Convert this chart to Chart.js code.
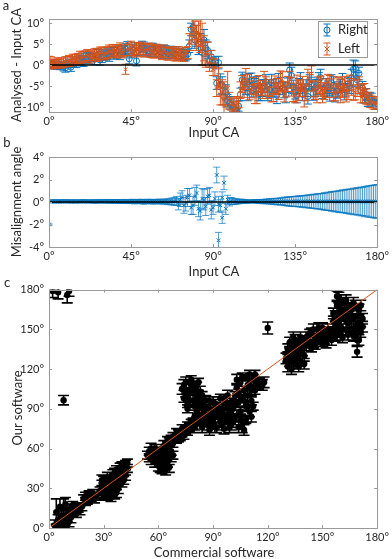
<!DOCTYPE html>
<html><head><meta charset="utf-8">
<script src="https://cdn.jsdelivr.net/npm/chart.js@4.4.0/dist/chart.umd.min.js"></script>
<style>
html,body{margin:0;padding:0;background:#fff;width:392px;height:559px;overflow:hidden;font-family:Lato,"Open Sans",sans-serif;}
#wrap{position:relative;width:392px;height:559px;}
canvas{position:absolute;left:0;}
.t{position:absolute;color:#262626;font-size:13px;white-space:nowrap;line-height:1;transform:translate(-50%,-50%);}
.r{transform:translate(-50%,-50%) rotate(-90deg);}
</style></head>
<body><div id="wrap">
<canvas id="ca" width="392" height="140" style="top:0;width:392px;height:140px"></canvas>
<canvas id="cb" width="392" height="143" style="top:137px;width:392px;height:143px"></canvas>
<canvas id="cc" width="392" height="281" style="top:278px;width:392px;height:281px"></canvas>
<div class="t" style="left:6px;top:5px">a</div>
<div class="t" style="left:7px;top:142px">b</div>
<div class="t" style="left:7px;top:282px">c</div>
<div class="t r" style="left:16px;top:65px">Analysed - Input CA</div>
<div class="t r" style="left:16px;top:202px">Misalignment angle</div>
<div class="t r" style="left:17px;top:408px">Our software</div>
<div class="t" style="left:214px;top:132px">Input CA</div>
<div class="t" style="left:214px;top:271px">Input CA</div>
<div class="t" style="left:214px;top:552px">Commercial software</div>
</div>
<script>
// ---------- tick labels ----------
const caTicks = [0,45,90,135,180];
const aYTicks = [-10,-5,0,5,10];
const bYTicks = [-4,-2,0,2,4];
const cTicks = [0,30,60,90,120,150,180];

// ---------- panel a / b : input contact angle (even and odd degrees) ----------
const inputCA = [0,2,4,6,8,10,12,14,16,18,20,22,24,26,28,30,32,34,36,38,40,42,44,46,48,50,52,54,56,58,
 60,62,64,66,68,70,72,74,76,78,80,82,84,86,88,90,92,94,96,98,100,102,104,106,108,110,112,114,116,118,
 120,122,124,126,128,130,132,134,136,138,140,142,144,146,148,150,152,154,156,158,160,162,164,166,168,170,172,174,176,178,180];
const inputCAOdd = [1,3,5,7,9,11,13,15,17,19,21,23,25,27,29,31,33,35,37,39,41,43,45,47,49,51,53,55,57,59,
 61,63,65,67,69,71,73,75,77,79,81,83,85,87,89,91,93,95,97,99,101,103,105,107,109,111,113,115,117,119,
 121,123,125,127,129,131,133,135,137,139,141,143,145,147,149,151,153,155,157,159,161,163,165,167,169,171,173,175,177,179];

const rightDiff = [0.3,0.2,0.0,-0.3,-0.4,0.2,-0.5,0.6,1.2,1.0,
 1.6,1.5,1.8,2.4,1.2,2.2,2.6,3.0,2.8,3.4,
 3.2,3.8,1.5,3.6,1.0,3.8,4.0,3.4,3.8,3.2,
 3.6,3.0,3.3,2.8,3.0,2.6,2.8,2.4,2.6,8.5,
 6.0,5.0,3.0,4.0,1.0,0.5,-4.3,-4.6,-7.5,-8.5,
 -9.5,-10.5,-9.8,-3.5,-5.5,-4.0,-6.0,-4.5,-6.5,-5.0,
 -6.8,-4.2,-6.0,-3.8,-5.5,-7.0,-1.2,-5.2,-7.2,-4.0,
 -6.0,-7.5,-4.5,-5.5,-3.5,-6.5,-5.0,-7.0,-4.8,-6.2,
 -5.0,-6.5,-4.5,-3.0,-0.8,-2.0,-5.5,-7.0,-8.0,-8.8,
 -9.2];
const rightDiffOdd = [0.1,-0.2,0.3,0.0,-0.6,0.4,0.8,0.5,1.4,0.9,
 1.8,2.0,1.4,2.6,2.0,2.5,2.2,3.2,3.0,2.6,
 3.5,4.2,3.0,3.9,3.5,4.4,3.6,3.2,3.9,3.4,
 3.2,3.6,2.9,3.2,2.7,3.0,2.5,2.2,4.5,9.0,
 7.0,5.5,6.0,3.5,2.0,0.8,0.6,-4.8,-6.5,-9.0,
 -10.0,-10.8,-7.0,-4.0,-6.5,-3.5,-5.0,-7.0,-5.5,-4.0,
 -6.0,-5.0,-7.2,-4.5,-6.0,-4.8,-2.5,-6.5,-5.0,-7.0,
 -5.5,-4.0,-6.8,-5.2,-3.0,-6.0,-5.5,-4.2,-7.2,-5.8,
 -4.0,-6.0,-5.0,-1.0,-3.5,-6.0,-7.5,-8.5,-8.0,-9.5];
const rightErr = [0.8,0.8,0.9,0.8,1.0,0.9,1.0,1.1,1.0,1.2,
 1.1,1.2,1.0,1.3,1.2,1.1,1.3,1.2,1.4,1.2,
 1.3,1.3,1.2,1.4,1.2,1.3,1.5,1.2,1.4,1.3,
 1.2,1.4,1.3,1.2,1.3,1.4,1.2,1.3,1.2,1.5,
 2.0,2.5,3.0,2.0,1.5,1.2,1.5,2.5,2.0,1.5,
 1.2,1.0,1.2,1.8,1.5,2.0,1.6,1.8,2.0,1.5,
 1.7,2.0,1.6,1.8,1.5,2.0,1.7,1.6,1.8,2.2,
 1.5,1.8,1.6,2.0,1.7,1.5,1.8,1.6,2.0,1.7,
 1.5,1.8,1.6,2.0,1.8,1.5,1.6,1.4,1.5,1.2,
 1.0];
const rightErrOdd = [0.9,0.8,1.0,0.9,1.1,1.0,1.2,1.1,1.0,1.2,
 1.2,1.1,1.3,1.2,1.4,1.2,1.3,1.2,1.4,1.3,
 1.2,1.4,1.3,1.5,1.2,1.3,1.4,1.2,1.3,1.4,
 1.3,1.2,1.4,1.3,1.2,1.4,1.3,1.2,1.5,2.0,
 2.5,2.0,2.5,2.0,1.5,1.2,1.5,2.0,1.8,1.5,
 1.2,1.0,1.5,1.8,2.0,1.6,1.8,1.5,2.0,1.7,
 1.8,1.6,2.0,1.5,1.8,1.7,2.0,1.6,1.8,1.5,
 2.0,1.7,1.6,1.8,2.0,1.5,1.7,1.9,1.6,1.8,
 2.0,1.6,1.8,2.2,1.7,1.5,1.6,1.4,1.3,1.1];
const leftDiff = [0.6,0.4,0.5,0.3,0.6,0.8,0.9,1.2,1.6,1.8,
 2.0,2.2,2.3,2.6,2.8,2.5,3.0,3.2,3.4,3.5,
 3.0,-1.0,3.8,3.5,4.0,3.6,3.2,3.8,3.4,3.0,
 3.3,2.8,3.0,2.6,2.8,2.5,2.6,2.2,3.0,7.0,
 8.0,7.5,5.0,2.5,0.5,-1.0,-5.5,-7.0,-8.0,-5.5,
 -9.2,-9.8,-9.0,-4.5,-3.0,-6.5,-5.0,-7.0,-5.5,-4.0,
 -6.0,-7.0,-4.8,-6.2,-4.0,-5.8,-3.5,-6.5,-4.2,-5.5,
 -7.5,-3.0,-2.0,-6.0,-4.8,-7.2,-5.5,-4.5,-6.8,-5.2,
 -7.0,-4.5,-6.0,-5.2,-6.5,-4.8,-6.8,-7.5,-8.5,-9.0,
 -9.0];
const leftDiffOdd = [0.8,0.2,0.7,0.5,0.9,1.0,1.4,1.3,1.9,2.1,
 2.4,1.9,2.7,2.4,3.0,2.8,3.3,3.6,3.1,3.8,
 3.4,3.6,4.2,3.3,3.8,4.0,3.5,3.9,3.2,3.6,
 3.0,3.4,2.7,3.1,2.4,2.9,2.3,2.8,5.5,8.5,
 6.5,7.0,4.0,3.0,1.5,-0.5,-3.0,-6.5,-7.5,-8.5,
 -9.5,-9.0,-6.0,-5.5,-4.0,-5.8,-6.8,-4.5,-6.2,-5.0,
 -5.5,-6.5,-5.0,-3.8,-6.8,-4.5,-5.2,-7.0,-6.0,-4.5,
 -6.5,-4.0,-5.8,-7.0,-5.0,-6.2,-4.0,-5.5,-6.5,-4.8,
 -5.5,-6.8,-4.2,-6.0,-5.5,-7.2,-6.0,-8.0,-8.8,-9.2];
const leftErr = [1.5,1.0,1.2,1.0,1.1,1.2,1.1,1.3,1.2,1.3,
 1.4,1.2,1.3,1.4,1.5,1.3,1.4,1.3,1.5,1.4,
 1.3,1.2,1.5,1.3,1.4,1.5,1.3,1.4,1.6,1.3,
 1.4,1.5,1.3,1.4,1.3,1.5,1.4,1.3,1.4,2.0,
 2.5,3.0,5.0,3.0,2.0,1.5,2.0,2.5,4.0,4.0,
 1.5,1.2,1.2,2.0,2.2,1.8,2.0,2.2,1.8,2.5,
 2.0,1.8,2.2,2.0,2.4,1.8,2.0,2.2,1.8,2.0,
 2.5,2.0,1.8,2.2,2.0,1.8,2.2,2.0,1.8,2.4,
 2.0,1.8,2.2,2.0,1.8,2.0,2.2,1.8,1.6,1.5,
 1.4];
const leftErrOdd = [1.2,1.1,1.0,1.2,1.1,1.3,1.2,1.3,1.4,1.2,
 1.3,1.4,1.2,1.5,1.3,1.4,1.5,1.3,1.4,1.5,
 1.4,1.3,1.5,1.4,1.3,1.5,1.4,1.3,1.5,1.4,
 1.3,1.4,1.5,1.3,1.4,1.5,1.3,1.4,2.0,2.5,
 3.0,4.0,3.0,2.5,2.0,2.0,2.5,3.0,2.5,2.0,
 1.5,1.5,2.0,2.2,1.8,2.0,2.4,2.0,1.8,2.2,
 2.0,2.2,1.8,2.4,2.0,1.8,2.2,2.0,2.4,1.8,
 2.0,2.2,1.8,2.0,2.4,2.0,1.8,2.2,2.0,1.8,
 2.2,2.0,1.8,2.4,2.0,1.8,1.6,1.5,1.4,1.3];

const misalign = [-2.0,
 0.06,0.05,0.07,0.05,0.06,0.04,0.06,0.05,0.07,0.06,0.05,0.04,0.06,0.05,0.06,0.07,0.05,0.04,0.06,0.03,0.05,0.02,0.06,0.03,0.05,0.01,0.06,0.04,0.02,0.05,0.0,0.06,0.03,0.05,
 0.1,0.2,-0.3,0.4,-0.5,0.5,-0.6,0.3,-0.4,0.6,-0.5,2.4,-0.3,1.7,0.2,0.1,
 0.05,0.04,0.06,0.05,0.04,0.06,0.05,0.06,0.04,0.05,0.06,0.05,0.04,0.06,0.05,0.04,0.06,0.05,0.04,0.05,
 0.06,0.05,0.04,0.06,0.05,0.04,0.05,0.06,0.05,0.04,0.05,0.06,0.04,0.05,0.05,0.04,0.06,0.05,0.04,0.05];
const misalignOdd = [0.05,0.06,0.04,0.05,0.07,0.05,0.06,0.04,0.05,0.06,
 0.05,0.06,0.04,0.05,0.06,0.05,0.04,0.06,0.05,0.04,
 0.06,0.03,0.05,0.02,0.06,0.04,0.03,0.05,0.02,0.04,
 0.05,0.03,0.02,0.04,0.06,-0.2,0.4,-0.1,0.6,-0.3,
 0.8,-0.8,0.2,0.5,-0.7,0.3,-0.2,0.4,-0.6,0.0,
 0.05,0.04,0.06,0.05,0.04,0.05,0.06,0.05,0.04,0.05,
 0.06,0.05,0.04,0.05,0.06,0.05,0.04,0.05,0.06,0.05,
 0.04,0.05,0.06,0.05,0.04,0.05,0.06,0.05,0.04,0.05,
 0.06,0.05,0.04,0.05,0.06,0.05,0.04,0.05,0.06,0.05];
const misalignErr = [0.05,
 0.12,0.12,0.13,0.12,0.12,0.13,0.12,0.12,0.13,0.12,0.12,0.13,0.14,0.12,0.13,0.14,0.15,0.14,0.15,0.16,0.15,0.16,0.18,0.16,0.18,0.2,0.18,0.2,0.18,0.2,0.18,0.2,0.22,0.3,
 0.4,0.6,0.7,0.8,0.6,0.8,0.7,0.9,0.8,0.7,0.6,0.7,0.5,0.6,0.4,0.3,
 0.25,0.2,0.18,0.15,0.12,0.12,0.14,0.16,0.18,0.2,0.22,0.25,0.28,0.3,0.35,0.4,0.42,0.45,0.48,0.5,
 0.55,0.58,0.62,0.66,0.7,0.75,0.8,0.85,0.9,0.95,1.0,1.05,1.1,1.15,1.2,1.25,1.3,1.4,1.45,1.5];
const misalignErrOdd = [0.12,0.13,0.12,0.12,0.13,0.12,0.12,0.13,0.12,0.13,
 0.13,0.12,0.14,0.13,0.14,0.15,0.14,0.15,0.16,0.15,
 0.17,0.16,0.18,0.19,0.17,0.2,0.19,0.18,0.2,0.19,
 0.2,0.22,0.25,0.3,0.35,0.5,0.6,0.7,0.6,0.8,
 0.7,0.8,0.9,0.7,0.8,0.6,0.7,0.5,0.5,0.35,
 0.28,0.22,0.19,0.16,0.13,0.12,0.15,0.17,0.19,0.21,
 0.24,0.27,0.29,0.32,0.38,0.41,0.44,0.46,0.49,0.52,
 0.56,0.6,0.64,0.68,0.72,0.78,0.82,0.88,0.92,0.98,
 1.02,1.08,1.12,1.18,1.22,1.28,1.35,1.38,1.42,1.48];
const misExtraCA = [93,95];
const misExtra = [-3.4,-1.4];
const misExtraErr = [0.7,0.5];

// ---------- panel c : commercial vs our software ----------
const commercialCA = [
 3,4,5,6,7,8,8,9,10,10,11,12,6,9,4,11,
 13,14,15,16,17,18,13,15,
 19,20,21,22,23,24,25,26,20,
 28,29,30,30,31,32,32,33,33,34,34,35,35,36,36,37,37,38,38,39,39,40,40,41,41,42,42,43,31,36,
 54,55,56,57,58,58,59,60,60,61,62,62,63,63,64,65,65,66,67,68,66,57,
 64,66,67,68,69,70,71,72,73,74,75,76,77,78,79,80,81,70,74,78,
 73,74,75,76,77,78,79,80,81,82,83,84,76,80,
 80,82,82,83,84,84,85,86,86,87,88,88,89,90,90,91,92,92,93,94,94,95,96,96,97,98,98,99,100,100,
 101,102,103,103,104,105,105,106,106,107,108,108,109,110,110,111,112,113,114,115,117,113,104,107,
 130,131,131,132,132,133,133,134,134,135,135,136,136,137,138,138,139,140,140,137,
 141,142,143,144,145,146,147,148,149,150,151,152,153,154,155,144,148,152,
 156,157,157,158,158,159,159,160,160,161,161,162,162,163,163,164,164,165,159,156,
 166,166,167,167,168,168,169,169,170,170,171,171,172,
 2,5,10,11,8,120,169,115,118,
 29,30,31,32,33,34,35,36,37,38,39,40,41,42,43,37,34,29,
 55,56,58,59,60,61,62,63,64,65,66,67,61,64,
 63,65,68,71,73,76,79,82,
 74,75,77,78,79,81,83,84,82,
 81,83,85,86,87,88,89,90,91,91,93,94,95,96,97,98,99,100,
 101,102,103,104,105,106,107,108,109,110,111,112,111,109,
 131,132,133,134,135,136,137,138,139,140,
 141,143,145,146,147,149,150,151,153,155,
 156,157,158,159,160,161,162,163,164,165,160,158,
 166,167,168,169,170,171,172,170];
const ourCA = [
 2,12,6,1,9,4,15,7,2,11,5,8,16,18,0,14,
 12,14,11,15,13,16,17,16,
 22,24,21,25,23,26,22,24,20,
 28,32,25,35,29,24,38,31,27,35,23,40,28,33,25,37,44,30,41,46,35,40,47,43,36,48,40,45,36,42,
 55,58,52,56,60,50,54,47,58,52,45,60,50,56,48,55,62,52,58,55,46,53,
 63,65,67,64,69,67,71,69,72,70,74,73,76,75,78,77,80,72,75,79,
 105,98,110,94,102,108,96,104,99,110,95,100,90,92,
 85,80,90,84,76,93,88,80,96,84,74,90,86,80,95,88,76,92,84,98,80,90,75,86,94,82,100,88,78,95,
 90,100,85,106,95,110,82,98,76,104,92,114,100,108,88,96,112,104,110,109,108,116,76,74,
 128,122,135,140,126,120,132,138,128,124,142,134,130,138,126,144,134,140,130,122,
 138,145,141,148,140,144,150,142,146,140,148,144,150,146,142,136,151,139,
 150,160,145,168,155,174,148,165,152,170,144,158,164,150,172,155,146,162,162,156,
 150,165,145,158,168,152,142,160,155,165,148,160,152,
 179,178,176,179,96.5,151,133,109.5,110,
 26,30,33,28,35,29,32,37,32,36,42,35,47,44,49,27,39,36,
 53,60,55,59,52,56,50,62,53,50,58,54,45,44,
 60,66,69,68,75,77,80,82,
 108,102,96,112,104,107,103,96,100,
 88,92,82,90,78,96,80,88,76,94,90,86,78,98,82,90,76,86,
 80,94,112,102,88,114,96,82,108,116,104,92,84,92,
 129,133,126,144,131,139,127,136,141,124,
 144,147,150,138,145,140,151,142,145,148,
 162,152,146,156,172,150,170,158,166,150,146,175,
 158,170,146,152,148,168,158,142];
const ourErr = [
 4,10,4,3,5,4,7,4,3,4,4,4,6,5,3,4,
 3,3,3,3,3,3,3,3,
 3,3,3,3,3,3,3,3,3,
 3,4,3,4,3,3,4,3,3,4,3,4,3,4,3,4,3,4,3,3,4,3,3,4,3,3,4,3,4,3,
 3,3,4,3,3,4,3,4,3,3,4,3,4,3,4,3,3,4,3,3,4,3,
 3,3,3,3,3,3,3,3,3,3,3,3,3,3,3,3,3,3,3,3,
 4,3,4,3,4,3,4,3,4,3,4,3,3,3,
 4,3,4,3,4,3,4,3,4,3,4,3,4,3,4,3,4,3,4,3,4,3,4,3,4,3,4,3,4,3,
 4,3,4,3,4,3,4,3,4,3,4,3,4,3,4,3,4,3,4,4,4,3,4,4,
 4,4,4,4,4,4,4,4,4,4,4,4,4,4,4,4,4,4,4,4,
 4,3,4,3,4,3,4,3,4,3,4,3,4,3,4,3,4,3,
 4,4,4,4,4,4,4,4,4,4,4,4,4,4,4,4,4,4,4,4,
 4,4,4,4,4,4,4,4,4,4,4,4,4,
 5,5,6,4,3.5,4.5,4,4,4,
 3,4,3,4,3,4,3,4,3,4,3,4,3,4,3,4,3,4,
 3,4,3,4,3,4,3,4,3,4,3,4,3,4,
 3,3,3,3,3,3,3,3,
 4,3,4,3,4,3,4,3,4,
 4,3,4,3,4,3,4,3,4,3,4,3,4,3,4,3,4,3,
 4,3,4,3,4,3,4,3,4,3,4,3,4,3,
 4,4,4,4,4,4,4,4,4,4,
 4,3,4,3,4,3,4,3,4,3,
 4,4,4,4,4,4,4,4,4,4,4,4,
 4,4,4,4,4,4,4,4];
const identityLine = [[1,1],[180,180]];
const zeroLine = [[0,0],[180,0]];

// ---------- styling ----------
const BLUE = '#0072BD', ORANGE = '#D95319', TXT = '#262626', FRAME = '#9a9a9a';
Chart.defaults.font.family = 'Lato, "Open Sans", sans-serif';
Chart.defaults.font.size = 11;
Chart.defaults.color = TXT;

const errPlugin = {
  id: 'errbars',
  beforeDatasetDraw(chart, args) {
    const ds = chart.data.datasets[args.index];
    if (!ds.errors) return;
    const xs = chart.scales.x, ys = chart.scales.y, ctx = chart.ctx, a = chart.chartArea;
    ctx.save();
    ctx.beginPath(); ctx.rect(a.left, a.top, a.right - a.left, a.bottom - a.top); ctx.clip();
    ctx.strokeStyle = ds.errColor; ctx.lineWidth = ds.errWidth;
    ctx.beginPath();
    ds.data.forEach((p, i) => {
      const e = ds.errors[i];
      const px = xs.getPixelForValue(p.x);
      const y1 = ys.getPixelForValue(p.y - e), y2 = ys.getPixelForValue(p.y + e);
      const c = ds.capHalf;
      ctx.moveTo(px, y1); ctx.lineTo(px, y2);
      ctx.moveTo(px - c, y1); ctx.lineTo(px + c, y1);
      ctx.moveTo(px - c, y2); ctx.lineTo(px + c, y2);
    });
    ctx.stroke();
    ctx.restore();
  }
};

const framePlugin = {
  id: 'frame',
  afterDraw(chart) {
    const a = chart.chartArea, ctx = chart.ctx, xs = chart.scales.x, ys = chart.scales.y;
    ctx.save();
    ctx.strokeStyle = FRAME; ctx.lineWidth = 1;
    ctx.strokeRect(Math.round(a.left) + 0.5, Math.round(a.top) + 0.5, Math.round(a.right - a.left), Math.round(a.bottom - a.top));
    ctx.beginPath();
    const L = 3;
    xs.ticks.forEach(t => {
      const px = Math.round(xs.getPixelForValue(t.value)) + 0.5;
      ctx.moveTo(px, a.bottom); ctx.lineTo(px, a.bottom - L);
      ctx.moveTo(px, a.top); ctx.lineTo(px, a.top + L);
    });
    ys.ticks.forEach(t => {
      const py = Math.round(ys.getPixelForValue(t.value)) + 0.5;
      ctx.moveTo(a.left, py); ctx.lineTo(a.left + L, py);
      ctx.moveTo(a.right, py); ctx.lineTo(a.right - L, py);
    });
    ctx.stroke();
    ctx.restore();
  }
};

const legendPlugin = {
  id: 'errlegend',
  afterDraw(chart, args, opts) {
    if (!opts.items) return;
    const ctx = chart.ctx;
    ctx.save();
    ctx.fillStyle = '#fff'; ctx.fillRect(318, 21, 49, 36);
    ctx.strokeStyle = FRAME; ctx.lineWidth = 1; ctx.strokeRect(318.5, 21.5, 49, 36);
    opts.items.forEach((it, k) => {
      const cy = 30 + k * 19, cx = 327;
      ctx.strokeStyle = it.color; ctx.lineWidth = 1;
      ctx.beginPath();
      ctx.moveTo(cx, cy - 6); ctx.lineTo(cx, cy + 6);
      ctx.moveTo(cx - 3.5, cy - 6); ctx.lineTo(cx + 3.5, cy - 6);
      ctx.moveTo(cx - 3.5, cy + 6); ctx.lineTo(cx + 3.5, cy + 6);
      ctx.stroke();
      ctx.beginPath();
      if (it.marker === 'circle') { ctx.arc(cx, cy, 3, 0, Math.PI * 2); }
      else { ctx.moveTo(cx - 2.5, cy - 2.5); ctx.lineTo(cx + 2.5, cy + 2.5); ctx.moveTo(cx + 2.5, cy - 2.5); ctx.lineTo(cx - 2.5, cy + 2.5); }
      ctx.stroke();
      ctx.fillStyle = TXT; ctx.font = '13px Lato, "Open Sans", sans-serif';
      ctx.textBaseline = 'middle'; ctx.textAlign = 'left';
      ctx.fillText(it.label, 338, cy);
    });
    ctx.restore();
  }
};

function scales(xTicks, yTicks, xr, yr, xH) {
  const fmt = v => v + '°';
  return {
    x: { type: 'linear', min: xr[0], max: xr[1],
      grid: { display: false, drawTicks: false }, border: { display: false },
      ticks: { padding: 3, callback: fmt, maxRotation: 0, autoSkip: false },
      afterBuildTicks: s => { s.ticks = xTicks.map(v => ({ value: v })); },
      afterFit: s => { s.height = xH; } },
    y: { type: 'linear', min: yr[0], max: yr[1],
      grid: { display: false, drawTicks: false }, border: { display: false },
      ticks: { padding: 5, callback: fmt, autoSkip: false },
      afterBuildTicks: s => { s.ticks = yTicks.map(v => ({ value: v })); },
      afterFit: s => { s.width = 49; } }
  };
}
const base = (pad, sc, extra) => ({
  responsive: false, animation: false, events: [],
  layout: { padding: pad },
  scales: sc,
  plugins: Object.assign({ legend: { display: false }, tooltip: { enabled: false } }, extra || {})
});
const lineDS = (pts, color, w, order) => ({ data: pts.map(p => ({ x: p[0], y: p[1] })), showLine: true, borderColor: color, borderWidth: w, pointRadius: 0, order: order, clip: 0 });
const pts = (xs, ys) => xs.map((x, i) => ({ x: x, y: ys[i] }));

// ---------- panel a ----------
new Chart(document.getElementById('ca'), {
  type: 'scatter',
  data: { datasets: [
    lineDS(zeroLine, '#000', 1.5, 0),
    { label: 'Left', data: pts(inputCA, leftDiff).concat(pts(inputCAOdd, leftDiffOdd)), errors: leftErr.concat(leftErrOdd),
      errColor: ORANGE, errWidth: 1, capHalf: 4, pointStyle: 'crossRot', pointRadius: 2.5,
      borderColor: ORANGE, borderWidth: 1, order: 1 },
    { label: 'Right', data: pts(inputCA, rightDiff).concat(pts(inputCAOdd, rightDiffOdd)), errors: rightErr.concat(rightErrOdd),
      errColor: BLUE, errWidth: 1, capHalf: 4, pointStyle: 'circle', pointRadius: 3,
      borderColor: BLUE, backgroundColor: 'rgba(0,0,0,0)', borderWidth: 1, order: 2 }
  ] },
  options: base({ top: 19, right: 14, left: 0, bottom: 0 }, scales(caTicks, aYTicks, [0, 180], [-11.2, 11], 28),
    { errlegend: { items: [{ label: 'Right', color: BLUE, marker: 'circle' }, { label: 'Left', color: ORANGE, marker: 'x' }] } }),
  plugins: [errPlugin, framePlugin, legendPlugin]
});

// ---------- panel b ----------
const bPts = pts(inputCA, misalign).concat(pts(inputCAOdd, misalignOdd), pts(misExtraCA, misExtra));
const bErr = misalignErr.concat(misalignErrOdd, misExtraErr);
new Chart(document.getElementById('cb'), {
  type: 'scatter',
  data: { datasets: [
    lineDS(zeroLine, '#000', 1.5, 0),
    { label: 'Misalignment', data: bPts, errors: bErr, errColor: BLUE, errWidth: 0.7, capHalf: 3.5,
      pointStyle: 'crossRot', pointRadius: 2.5, borderColor: BLUE, borderWidth: 1, order: 1 }
  ] },
  options: base({ top: 20, right: 14, left: 0, bottom: 0 }, scales(caTicks, bYTicks, [0, 180], [-4, 4], 33)),
  plugins: [errPlugin, framePlugin]
});

// ---------- panel c ----------
new Chart(document.getElementById('cc'), {
  type: 'scatter',
  data: { datasets: [
    lineDS(identityLine, ORANGE, 1, 0),
    { label: 'CA', data: pts(commercialCA, ourCA), errors: ourErr,
      errColor: '#000', errWidth: 1.6, capHalf: 5.5, pointStyle: 'circle', pointRadius: 3.2,
      borderColor: '#000', backgroundColor: '#000', borderWidth: 0, order: 1 }
  ] },
  options: base({ top: 10, right: 13, left: 0, bottom: 0 }, scales(cTicks, cTicks, [0, 180], [0, 180], 31)),
  plugins: [errPlugin, framePlugin]
});
</script>
</body></html>
